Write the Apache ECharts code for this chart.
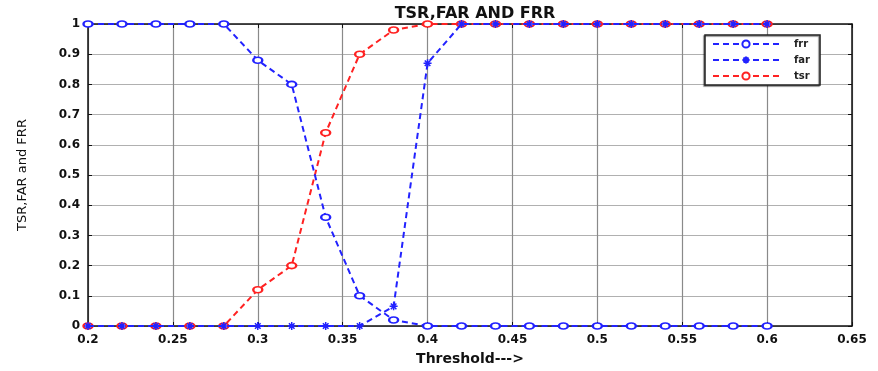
<!DOCTYPE html>
<html>
<head>
<meta charset="utf-8">
<script src="https://cdn.jsdelivr.net/npm/echarts@6/dist/echarts.min.js"></script>
<style>
  html, body { margin: 0; padding: 0; background: #fff; }
  #chart { width: 878px; height: 371px; }
</style>
</head>
<body>
<div id="chart"></div>
<script>
// Threshold sweep and the three rates measured at each threshold
const thresholds = [0.20, 0.22, 0.24, 0.26, 0.28, 0.30, 0.32, 0.34, 0.36, 0.38, 0.40,
                    0.42, 0.44, 0.46, 0.48, 0.50, 0.52, 0.54, 0.56, 0.58, 0.60];
const frr = [1, 1, 1, 1, 1, 0.88, 0.80, 0.36, 0.10, 0.02, 0,
             0, 0, 0, 0, 0, 0, 0, 0, 0, 0];
const far = [0, 0, 0, 0, 0, 0, 0, 0, 0, 0.065, 0.87,
             1, 1, 1, 1, 1, 1, 1, 1, 1, 1];
const tsr = [0, 0, 0, 0, 0, 0.12, 0.20, 0.64, 0.90, 0.98, 1,
             1, 1, 1, 1, 1, 1, 1, 1, 1, 1];

const xTicks = { min: 0.2, max: 0.65, step: 0.05 };
const yTicks = { min: 0, max: 1, step: 0.1 };

const pairs = ys => thresholds.map((t, i) => [t, ys[i]]);

const BLUE = '#2222ff';
const RED = '#ff2222';
const txtFont = 'DejaVu Sans';

const chart = echarts.init(document.getElementById('chart'));

function axisCommon(showLabels) {
  return {
    type: 'value',
    axisLine: { show: true, onZero: false, lineStyle: { color: '#111', width: 1.5 } },
    axisTick: { show: true, inside: true, length: 4, lineStyle: { color: '#111' } },
    axisLabel: { show: showLabels, color: '#111', fontFamily: txtFont, fontWeight: 'bold', fontSize: 12 },
  };
}

const STAR = 'path://M0,5L10,5M5,0L5,10M1.5,1.5L8.5,8.5M8.5,1.5L1.5,8.5';

const lineSeries = (name, ys, color, symbol, z) => ({
  name, type: 'line', data: pairs(ys), z,
  symbol, symbolSize: symbol === 'emptyCircle' ? [9, 6] : 8,
  showAllSymbol: true,
  lineStyle: { color, width: 2, type: [6, 4] },
  itemStyle: { color, borderColor: color, borderWidth: 1.5 },
  emphasis: { disabled: true },
  animation: false
});

chart.setOption({
  animation: false,
  title: {
    text: 'TSR,FAR AND FRR',
    left: 470, top: 1, textAlign: 'center',
    textStyle: { fontFamily: txtFont, fontWeight: 'bold', fontSize: 16, color: '#111' }
  },
  grid: { left: 88, right: 26, top: 24, bottom: 43 },
  legend: {
    orient: 'vertical',
    left: 705, top: 35,
    width: 112,
    padding: [4, 10, 4, 7],
    itemWidth: 66, itemHeight: 9, itemGap: 6,
    backgroundColor: '#fff',
    borderColor: '#222', borderWidth: 1.5,
    shadowColor: 'rgba(0,0,0,0.5)', shadowOffsetX: -1, shadowOffsetY: 1, shadowBlur: 1,
    textStyle: { fontFamily: txtFont, fontWeight: 'bold', fontSize: 10, lineHeight: 9, color: '#222', padding: [0, 0, 0, 10] },
    data: ['frr', 'far', 'tsr']
  },
  xAxis: [
    Object.assign(axisCommon(true), {
      position: 'bottom',
      min: xTicks.min, max: xTicks.max, interval: xTicks.step,
      name: 'Threshold--->', nameLocation: 'middle', nameGap: 26,
      nameTextStyle: { fontFamily: txtFont, fontWeight: 'bold', fontSize: 14, color: '#111' },
      splitLine: { show: true, lineStyle: { color: '#8a8a8a', width: 1.2 } },
      axisLabel: { color: '#111', fontFamily: txtFont, fontWeight: 'bold', fontSize: 12, margin: 8,
                   formatter: v => String(+v.toFixed(2)) }
    }),
    Object.assign(axisCommon(false), {
      position: 'top',
      min: xTicks.min, max: xTicks.max, interval: xTicks.step,
      splitLine: { show: false }
    })
  ],
  yAxis: [
    Object.assign(axisCommon(true), {
      position: 'left',
      min: yTicks.min, max: yTicks.max, interval: yTicks.step,
      name: 'TSR,FAR and FRR', nameLocation: 'middle', nameGap: 59, nameRotate: 90,
      nameTextStyle: { fontFamily: txtFont, fontSize: 13, color: '#111' },
      splitLine: { show: true, lineStyle: { color: '#b0b0b0', width: 1 } },
      axisLabel: { color: '#111', fontFamily: txtFont, fontWeight: 'bold', fontSize: 12, margin: 8,
                   formatter: v => String(+v.toFixed(1)) }
    }),
    Object.assign(axisCommon(false), {
      position: 'right',
      min: yTicks.min, max: yTicks.max, interval: yTicks.step,
      splitLine: { show: false }
    })
  ],
  series: [
    lineSeries('frr', frr, BLUE, 'emptyCircle', 3),
    lineSeries('far', far, BLUE, STAR, 4),
    lineSeries('tsr', tsr, RED, 'emptyCircle', 2)
  ]
});
</script>
</body>
</html>
